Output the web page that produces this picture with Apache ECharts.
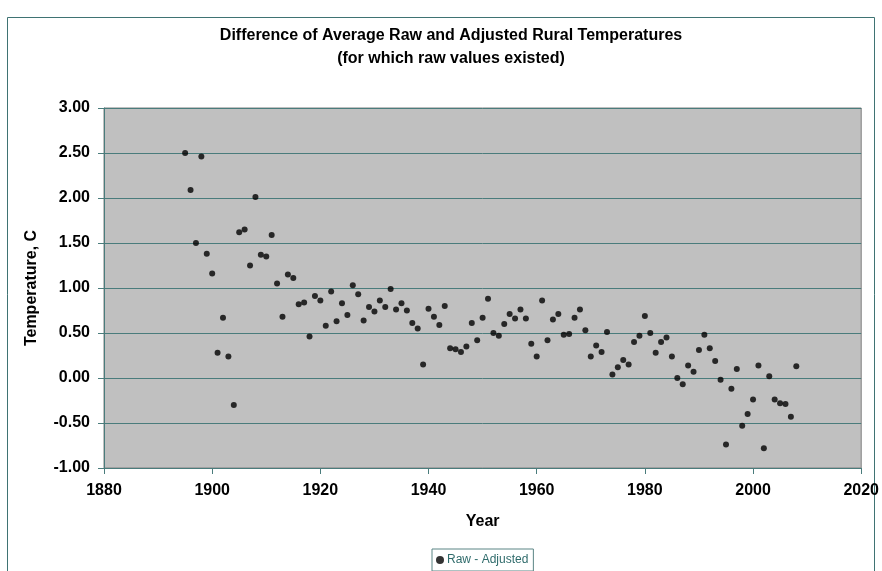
<!DOCTYPE html>
<html>
<head>
<meta charset="utf-8">
<title>Raw - Adjusted</title>
<script src="https://cdn.jsdelivr.net/npm/echarts@6/dist/echarts.min.js"></script>
<style>
  html, body { margin: 0; padding: 0; background: #fff; }
  #chart { width: 882px; height: 571px; }
</style>
</head>
<body>
<div id="chart"></div>
<script>
// years with a raw value
const years = [
  1895, 1896, 1897, 1898, 1899, 1900, 1901, 1902, 1903, 1904,
  1905, 1906, 1907, 1908, 1909, 1910, 1911, 1912, 1913, 1914,
  1915, 1916, 1917, 1918, 1919, 1920, 1921, 1922, 1923, 1924,
  1925, 1926, 1927, 1928, 1929, 1930, 1931, 1932, 1933, 1934,
  1935, 1936, 1937, 1938, 1939, 1940, 1941, 1942, 1943, 1944,
  1945, 1946, 1947, 1948, 1949, 1950, 1951, 1952, 1953, 1954,
  1955, 1956, 1957, 1958, 1959, 1960, 1961, 1962, 1963, 1964,
  1965, 1966, 1967, 1968, 1969, 1970, 1971, 1972, 1973, 1974,
  1975, 1976, 1977, 1978, 1979, 1980, 1981, 1982, 1983, 1984,
  1985, 1986, 1987, 1988, 1989, 1990, 1991, 1992, 1993, 1994,
  1995, 1996, 1997, 1998, 1999, 2000, 2001, 2002, 2003, 2004,
  2005, 2006, 2007, 2008
]

// raw minus adjusted, deg C
const rawMinusAdjusted = [
  2.50, 2.09, 1.50, 2.46, 1.38, 1.16, 0.28, 0.67, 0.24, -0.30,
  1.62, 1.65, 1.25, 2.01, 1.37, 1.35, 1.59, 1.05, 0.68, 1.15,
  1.11, 0.82, 0.84, 0.46, 0.91, 0.86, 0.58, 0.96, 0.63, 0.83,
  0.70, 1.03, 0.93, 0.64, 0.79, 0.74, 0.86, 0.79, 0.99, 0.76,
  0.83, 0.75, 0.61, 0.55, 0.15, 0.77, 0.68, 0.59, 0.80, 0.33,
  0.32, 0.29, 0.35, 0.61, 0.42, 0.67, 0.88, 0.50, 0.47, 0.60,
  0.71, 0.66, 0.76, 0.66, 0.38, 0.24, 0.86, 0.42, 0.65, 0.71,
  0.48, 0.49, 0.67, 0.76, 0.53, 0.24, 0.36, 0.29, 0.51, 0.04,
  0.12, 0.20, 0.15, 0.40, 0.47, 0.69, 0.50, 0.28, 0.40, 0.45,
  0.24, 0.00, -0.07, 0.14, 0.07, 0.31, 0.48, 0.33, 0.19, -0.02,
  -0.74, -0.12, 0.10, -0.53, -0.40, -0.24, 0.14, -0.78, 0.02, -0.24,
  -0.28, -0.29, -0.43, 0.13
]

const font = 'Liberation Sans, Arial, sans-serif'
const teal = '#4a7c7c'

const chart = echarts.init(document.getElementById('chart'))

const option = {
  backgroundColor: '#fff',
  animation: false,
  title: {
    text: 'Difference of Average Raw and Adjusted Rural Temperatures\n(for which raw values existed)',
    left: 451,
    top: 24,
    padding: 0,
    textAlign: 'center',
    textStyle: {
      fontFamily: font,
      fontSize: 16,
      fontWeight: 'bold',
      color: '#000',
      lineHeight: 23
    }
  },
  graphic: [{
    // outer chart frame
    type: 'rect',
    silent: true,
    shape: { x: 7.5, y: 17.5, width: 867, height: 600 },
    style: { fill: null, stroke: '#3f7373', lineWidth: 1 }
  }],
  legend: {
    data: ['Raw - Adjusted'],
    left: 432,
    top: 549,
    padding: [5, 5, 5, 4],
    itemGap: 0,
    itemWidth: 8,
    itemHeight: 8,
    icon: 'circle',
    borderColor: '#5a8585',
    borderWidth: 1,
    textStyle: {
      fontFamily: font,
      fontSize: 12,
      color: '#2f6b6b',
      padding: [0, 0, 0, -2]
    }
  },
  grid: {
    left: 104,
    top: 108,
    width: 759,
    height: 360,
    show: true,
    backgroundColor: '#c0c0c0',
    borderColor: '#808080',
    borderWidth: 1
  },
  xAxis: {
    type: 'value',
    min: 1880,
    max: 2020,
    interval: 20,
    name: 'Year',
    nameLocation: 'middle',
    nameGap: 46,
    nameTextStyle: { fontFamily: font, fontSize: 16, fontWeight: 'bold', color: '#000' },
    axisLine: { show: true, onZero: false, lineStyle: { color: teal, width: 1 } },
    axisTick: { show: true, inside: false, length: 6, lineStyle: { color: teal } },
    axisLabel: {
      fontFamily: font,
      fontSize: 16,
      fontWeight: 'bold',
      color: '#000',
      margin: 15,
      formatter: v => String(v)
    },
    splitLine: { show: false }
  },
  yAxis: {
    type: 'value',
    min: -1,
    max: 3,
    interval: 0.5,
    name: 'Temperature, C',
    nameLocation: 'middle',
    nameGap: 64,
    nameTextStyle: { fontFamily: font, fontSize: 16, fontWeight: 'bold', color: '#000' },
    axisLine: { show: true, onZero: false, lineStyle: { color: teal, width: 1 } },
    axisTick: { show: true, inside: false, length: 6, lineStyle: { color: teal } },
    axisLabel: {
      fontFamily: font,
      fontSize: 16,
      fontWeight: 'bold',
      color: '#000',
      margin: 14,
      formatter: v => v.toFixed(2)
    },
    splitLine: { show: true, lineStyle: { color: teal, width: 1 } }
  },
  series: [{
    name: 'Raw - Adjusted',
    type: 'scatter',
    symbol: 'circle',
    symbolSize: 6,
    itemStyle: { color: '#000' },
    data: years.map((y, i) => [y, rawMinusAdjusted[i]])
  }]
}

chart.setOption(option)
</script>
</body>
</html>
